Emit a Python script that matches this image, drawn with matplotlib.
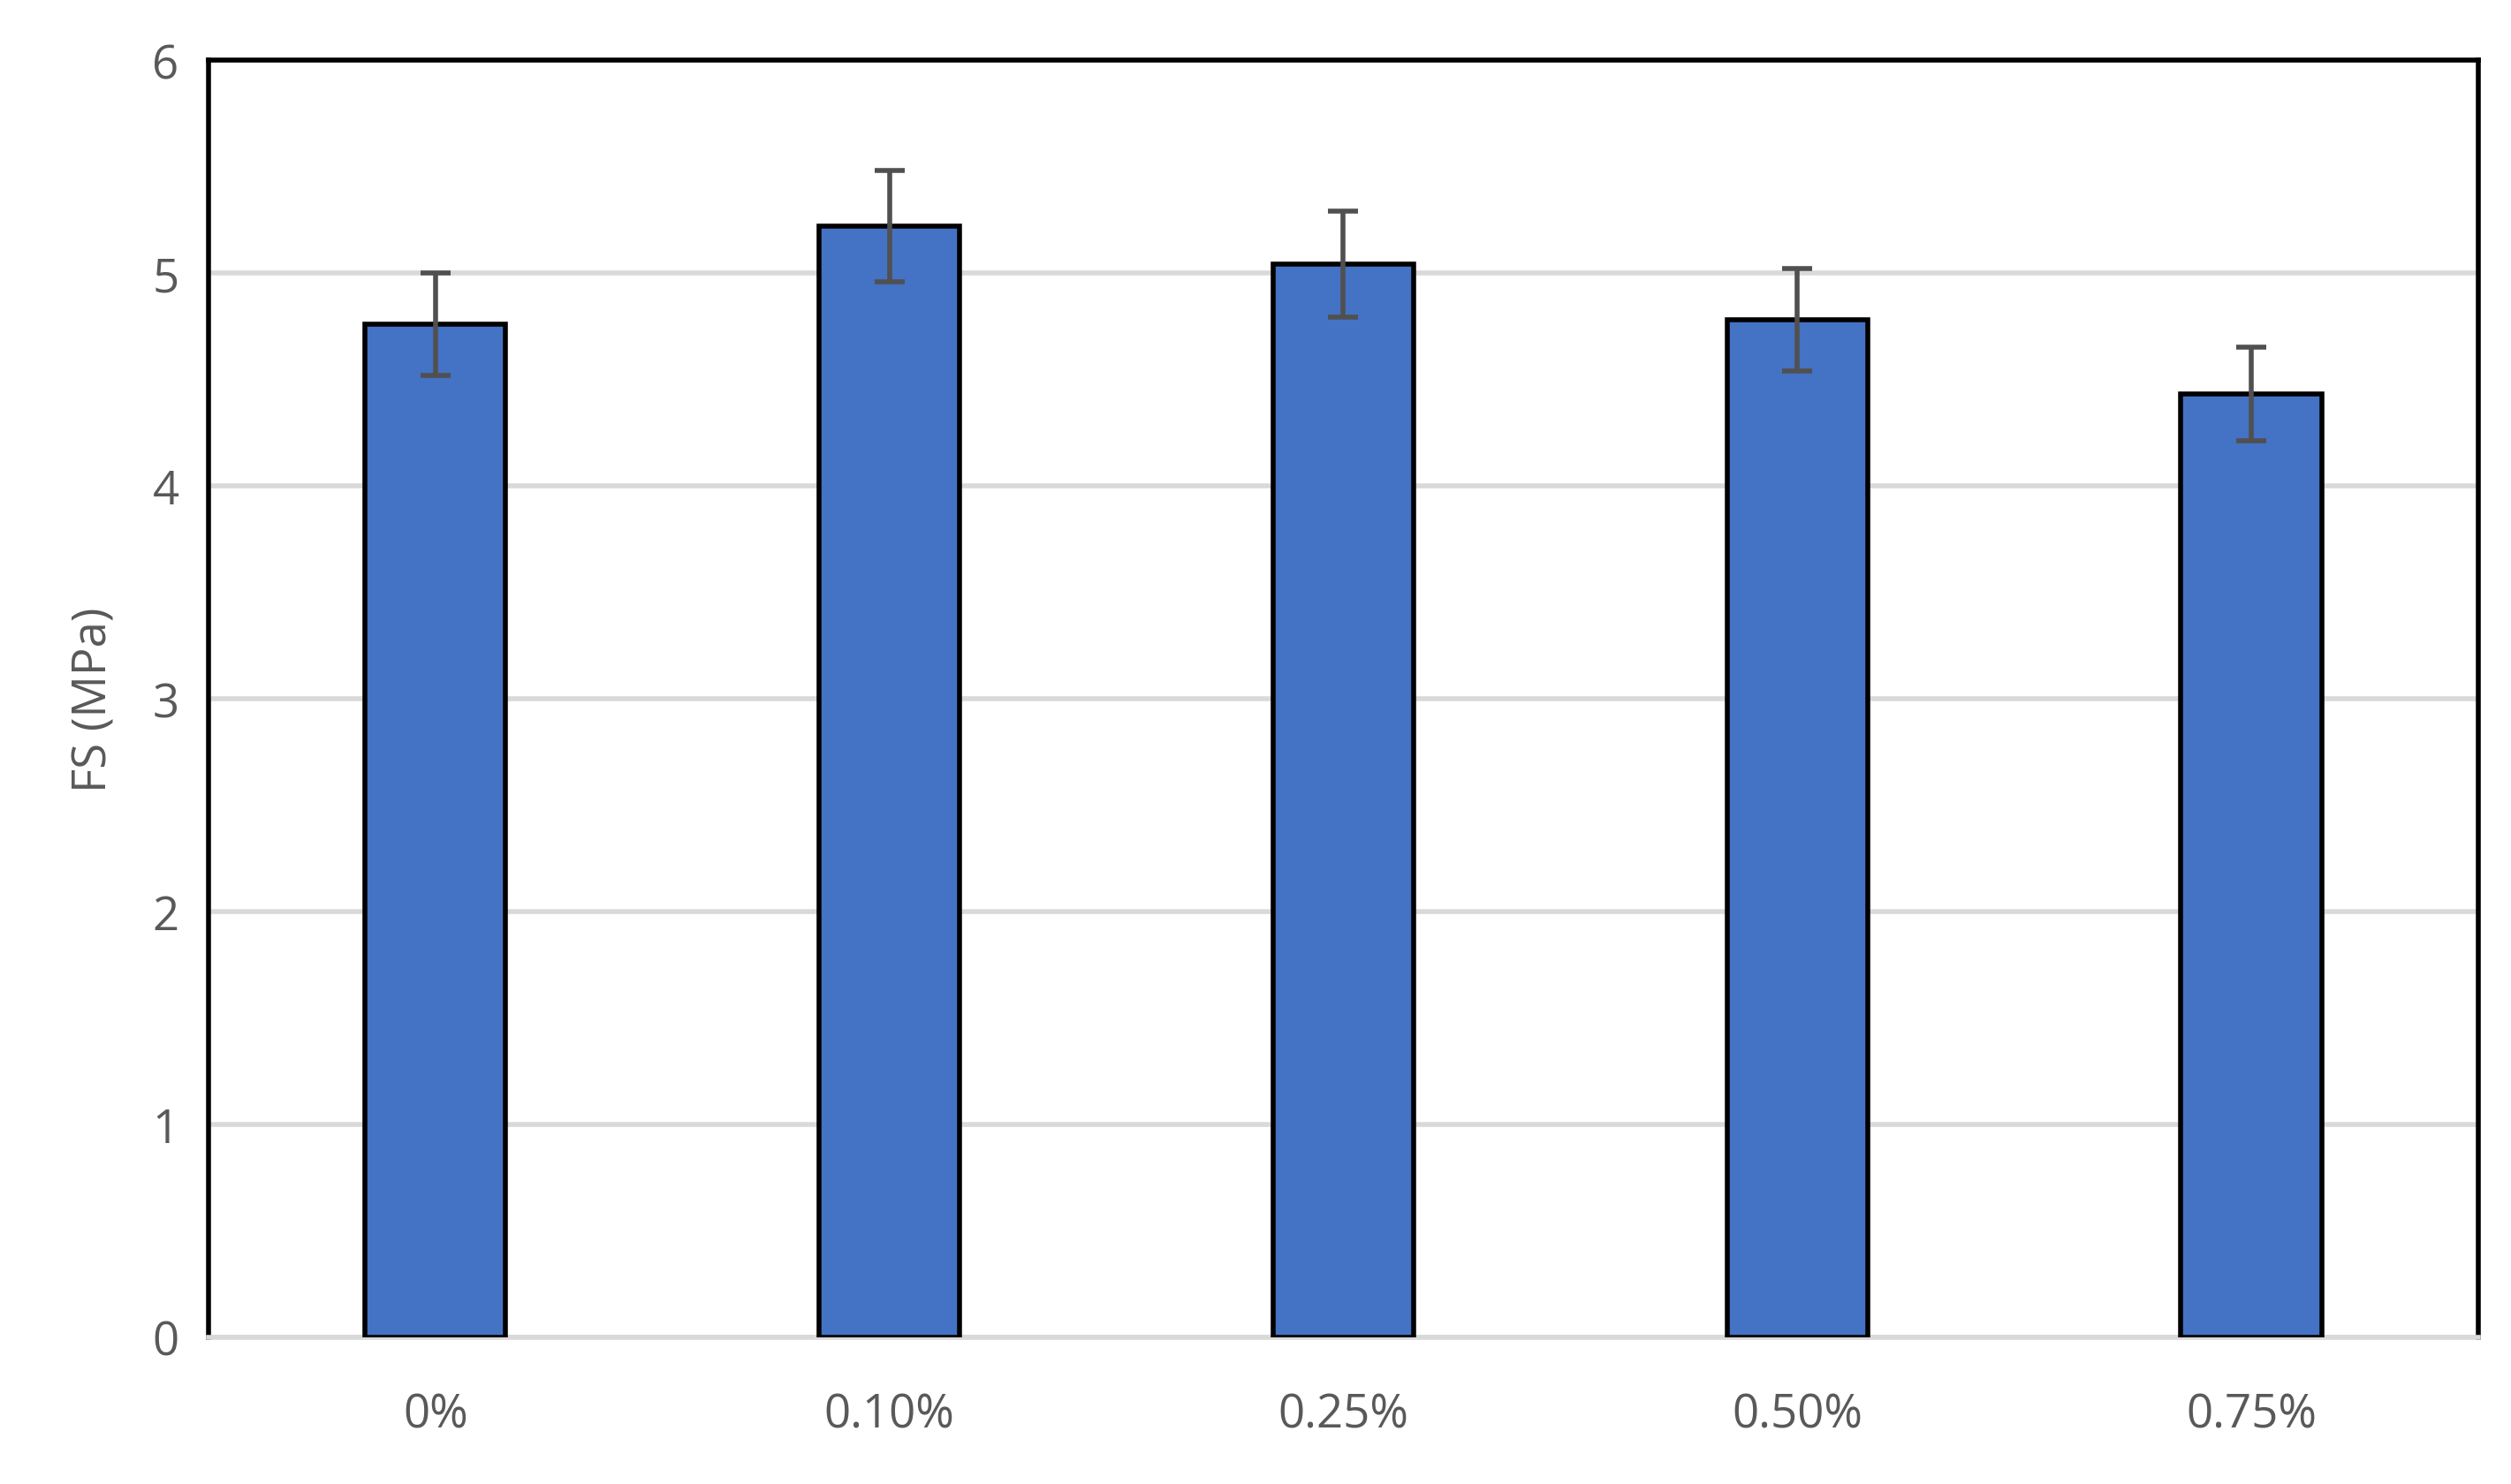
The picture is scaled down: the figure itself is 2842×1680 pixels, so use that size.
import matplotlib
matplotlib.use("Agg")
import matplotlib.pyplot as plt

categories = ["0%", "0.10%", "0.25%", "0.50%", "0.75%"]
values = [4.76, 5.22, 5.04, 4.78, 4.43]
errors = [0.24, 0.26, 0.25, 0.24, 0.22]

plt.rcParams['font.family'] = ['Open Sans', 'DejaVu Sans']
fig = plt.figure(figsize=(14.21, 8.405), dpi=200)
ax = fig.add_axes([0.083, 0.099, 0.904, 0.86])
x = range(len(categories))
ax.bar(x, values, width=0.31, color='#4472C4', edgecolor='black', linewidth=2, zorder=3)
ax.errorbar(x, values, yerr=errors, fmt='none', ecolor='#505050', elinewidth=2, capsize=6, capthick=2, zorder=4)
ax.set_xlim(-0.5, 4.5)
ax.set_ylim(0, 6)
ax.set_yticks(range(7))
ax.set_xticks(list(x))
ax.set_xticklabels(categories)
ax.yaxis.grid(True, color='#D9D9D9', linewidth=2, zorder=0)
ax.set_axisbelow(True)
for s in ['top', 'left', 'right']:
    ax.spines[s].set_color('black')
    ax.spines[s].set_linewidth(2)
ax.spines['bottom'].set_color('#D9D9D9')
ax.spines['bottom'].set_linewidth(2)
ax.tick_params(axis='both', length=0, labelsize=19, colors='#595959', pad=12)
ax.tick_params(axis='x', pad=22)
ax.set_ylabel('FS (MPa)', fontsize=19, color='#595959', labelpad=14)
fig.savefig('out.png', dpi=200)
